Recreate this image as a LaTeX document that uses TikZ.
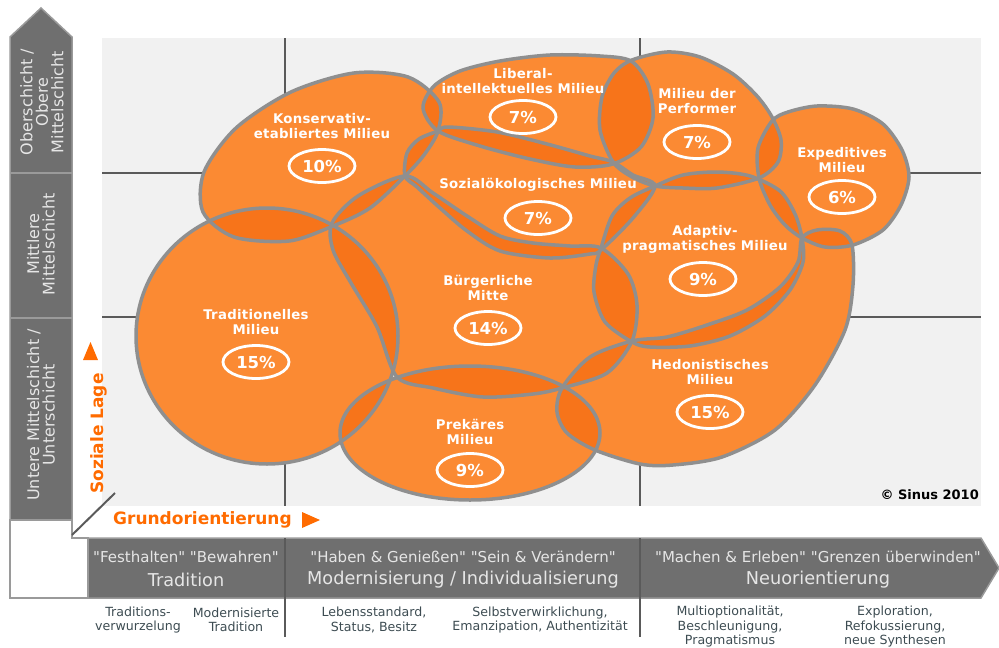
\documentclass[tikz,border=0pt]{standalone}
\usepackage{fontspec}
\setmainfont{DejaVu Sans}[Ligatures=TeXOff]
\usetikzlibrary{shapes.geometric}

\definecolor{milieu}{HTML}{FB8A33}
\definecolor{overlap}{HTML}{F7741A}
\definecolor{rim}{HTML}{8F8F8F}
\definecolor{panel}{HTML}{F1F1F1}
\definecolor{bar}{HTML}{6F6F6F}
\definecolor{barline}{HTML}{9A9A9A}
\definecolor{grid}{HTML}{5A5A5A}
\definecolor{signal}{HTML}{FF6B00}
\definecolor{caption}{HTML}{3D4C52}
\definecolor{bartext}{HTML}{E6E6E6}

\tikzset{
  tag/.style={text=white, font=\bfseries\fontsize{13.3}{15}\selectfont\addfontfeatures{LetterSpace=2}, align=center, inner sep=0pt},
  share/.style={ellipse, draw=white, line width=2.8pt, minimum width=66pt, minimum height=33pt,
    inner sep=0pt, text=white, font=\bfseries\fontsize{16.5}{16.5}\selectfont},
  rimline/.style={draw=rim, line width=3.5pt},
  gridline/.style={draw=grid, line width=2.6pt},
  layer/.style={rotate=90, text=bartext, font=\fontsize{16}{15.5}\selectfont, align=center, inner sep=0pt},
  motto/.style={text=bartext, font=\fontsize{15}{15}\selectfont, inner sep=0pt},
  phase/.style={text=bartext, font=\fontsize{17.7}{17.7}\selectfont, inner sep=0pt},
  value/.style={text=caption, font=\fontsize{12.6}{14.5}\selectfont, align=center, inner sep=0pt},
  axis/.style={text=signal, font=\bfseries\fontsize{17}{17}\selectfont, inner sep=0pt}
}

\begin{document}
\begin{tikzpicture}[x=1pt, y=-1pt]
            \useasboundingbox (0,0) rectangle (999,648);

            % milieu outlines
            \def\shKe{plot[smooth cycle] coordinates {(203,212) (204,172) (236,128) (291,92) (354,73) (408,77) (439,102) (438,131) (424,155) (405,176) (370,208) (333,226) (289,241) (234,237)}}
            \def\shLi{plot[smooth cycle] coordinates {(423,108) (434,86) (460,71) (500,61) (550,55) (600,56) (631,61) (648,84) (653,118) (641,147) (613,164) (575,167) (530,159) (480,146) (438,131)}}
            \def\shPf{plot[smooth cycle] coordinates {(632,60) (667,52) (700,57) (733,74) (757,96) (772,117) (781,140) (778,162) (759,178) (717,188) (683,188) (655,186) (632,177) (613,162) (600,130) (602,97) (614,73)}}
            \def\shEx{plot[smooth cycle] coordinates {(772,121) (788,112) (817,106) (853,109) (883,124) (902,150) (909,177) (901,205) (883,230) (853,245) (825,247) (802,238) (785,225) (770,205) (759,178) (758,148)}}
            \def\shAp{plot[smooth cycle] coordinates {(655,186) (683,175) (717,172) (750,176) (780,191) (795,214) (802,238) (803,262) (790,290) (765,316) (730,336) (690,346) (650,347) (632,342) (605,322) (594,292) (596,265) (601,248) (612,216) (630,198)}}
            \def\shSo{plot[smooth cycle] coordinates {(438,131) (448,127) (497,132) (547,144) (590,156) (613,162) (633,175) (655,186) (633,218) (601,250) (590,254) (550,258) (500,251) (467,231) (440,208) (417,187) (405,176) (407,153) (419,139)}}
            \def\shBm{plot[smooth cycle] coordinates {(332,223) (358,196) (405,176) (433,193) (467,216) (500,236) (533,243) (570,246) (601,248) (628,274) (637,305) (632,341) (607,373) (562,388) (533,394) (483,397) (433,388) (397,377) (377,327) (351,283) (333,250)}}
            \def\shPr{(470,433) ellipse [x radius=130, y radius=67]}
            \def\shHe{plot[smooth cycle] coordinates {(562,388) (590,357) (632,341) (667,337) (707,325) (747,310) (780,287) (798,262) (802,238) (817,230) (840,231) (852,245) (853,285) (845,330) (815,385) (775,430) (722,457) (673,465) (640,464) (595,450) (567,433) (557,412)}}
            \def\shTr{(267,336) ellipse [x radius=131, y radius=128]}

            % panel and grid
            \fill[panel] (102,38) rectangle (981,506);
            \draw[gridline] (285,38) -- (285,506) (640,38) -- (640,506);
            \draw[gridline] (102,173) -- (981,173) (102,317) -- (981,317);

            % milieus
            \begin{scope}[fill=milieu]
                \foreach \s in {Ke,Li,Pf,Ex,Ap,So,Bm,Pr,He,Tr}
                    {\expandafter\fill\csname sh\s\endcsname;}
            \end{scope}

            % Shade overlaps
            \foreach \a/\b in {Ke/Li,Ke/So,Ke/Bm,Ke/Tr,Li/So,Li/Pf,So/Pf,So/Ap,So/Bm,Pf/Ap,
                               Pf/Ex,Ex/Ap,Ex/He,Ap/He,Ap/Bm,Bm/He,Bm/Pr,Bm/Tr,Tr/Pr,Pr/He}{
                \begin{scope}[fill=overlap]
                    \expandafter\clip\csname sh\a\endcsname;
                    \expandafter\fill\csname sh\b\endcsname;
                \end{scope}
            }
            \begin{scope}[rimline]
                \foreach \s in {Ke,Li,Pf,Ex,Ap,So,Bm,Pr,He,Tr}
                    {\expandafter\draw\csname sh\s\endcsname;}
            \end{scope}

            % labels
            \node[tag] (ke) at (322,126) {Konservativ-\\etabliertes Milieu};
            \node[share] (kepct) at (322,166) {10\%};
            \node[tag] (li) at (523,81) {Liberal-\\intellektuelles Milieu};
            \node[share] (lipct) at (523,117) {7\%};
            \node[tag] (pf) at (697,101) {Milieu der\\Performer};
            \node[share] (pfpct) at (697,142) {7\%};
            \node[tag] (ex) at (842,160) {Expeditives\\Milieu};
            \node[share] (expct) at (842,197) {6\%};
            \node[tag] (so) at (538,185) {Sozialökologisches Milieu};
            \node[share] (sopct) at (538,218) {7\%};
            \node[tag] (ap) at (705,239) {Adaptiv-\\pragmatisches Milieu};
            \node[share] (appct) at (703,279) {9\%};
            \node[tag] (bm) at (488,288) {Bürgerliche\\Mitte};
            \node[share] (bmpct) at (488,328) {14\%};
            \node[tag] (tr) at (256,322) {Traditionelles\\Milieu};
            \node[share] (trpct) at (256,362) {15\%};
            \node[tag] (pr) at (470,432) {Prekäres\\Milieu};
            \node[share] (prpct) at (470,470) {9\%};
            \node[tag] (he) at (710,372) {Hedonistisches\\Milieu};
            \node[share] (hepct) at (710,412) {15\%};
            \node[anchor=east, inner sep=0pt, font=\bfseries\fontsize{13}{13}\selectfont] (sinus) at (979,495) {© Sinus 2010};

            % social layer bar
            \draw[fill=bar, draw=barline, line width=1.5pt] (10,520) -- (10,37) -- (41,8) -- (72,37) -- (72,520) -- cycle;
            \draw[barline, line width=1.5pt] (10,173) -- (72,173) (10,318) -- (72,318);
            \draw[fill=white, draw=barline, line width=1.5pt] (72,520) -- (72,538) -- (88,538) -- (88,598) -- (10,598) -- (10,520) -- cycle;
            \node[layer] (upper) at (42,102) {Oberschicht /\\Obere\\Mittelschicht};
            \node[layer] (middle) at (41,244) {Mittlere\\Mittelschicht};
            \node[layer] (lower) at (41,415) {Untere Mittelschicht /\\Unterschicht};

            % axes
            \draw[grid, line width=2pt] (72,535) -- (115,493);
            \node[axis, rotate=90, anchor=west] (lage) at (99,494) {Soziale Lage};
            \fill[signal] (83,360) -- (98,360) -- (90.5,342) -- cycle;
            \node[axis, anchor=west] (grund) at (113,520) {Grundorientierung};
            \fill[signal] (302,512) -- (302,528) -- (320,520) -- cycle;

            % orientation bar
            \draw[fill=bar, draw=barline, line width=1.5pt] (88,538) -- (981,538) -- (999,568) -- (981,598) -- (88,598) -- cycle;
            \draw[gridline] (285,538) -- (285,637) (640,538) -- (640,637);
            \node[motto] (m1) at (186,557) {"Festhalten" "Bewahren"};
            \node[phase] (p1) at (186,580) {Tradition};
            \node[motto] (m2) at (463,557) {"Haben \& Genießen" "Sein \& Verändern"};
            \node[phase] (p2) at (463,580) {Modernisierung / Individualisierung};
            \node[motto] (m3) at (818,557) {"Machen \& Erleben" "Grenzen überwinden"};
            \node[phase] (p3) at (818,580) {Neuorientierung};

            % values below
            \node[value] (v1) at (138,620) {Traditions-\\verwurzelung};
            \node[value] (v2) at (236,620) {Modernisierte\\Tradition};
            \node[value] (v3) at (374,620) {Lebensstandard,\\Status, Besitz};
            \node[value] (v4) at (540,620) {Selbstverwirklichung,\\Emanzipation, Authentizität};
            \node[value] (v5) at (730,627) {Multioptionalität,\\Beschleunigung,\\Pragmatismus};
            \node[value] (v6) at (895,627) {Exploration,\\Refokussierung,\\neue Synthesen};
        \end{tikzpicture}
\end{document}
